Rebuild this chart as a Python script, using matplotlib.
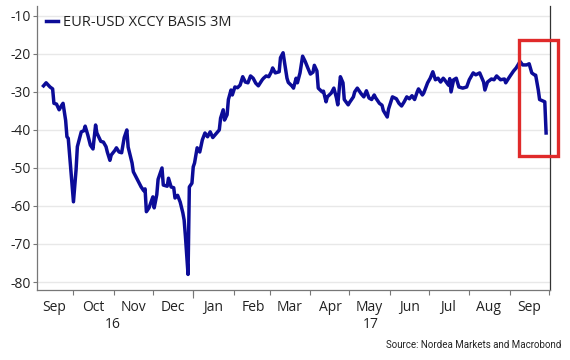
import matplotlib
matplotlib.use("Agg")
import matplotlib.pyplot as plt
import matplotlib.dates as mdates
import matplotlib.patches as mpatches
import matplotlib.transforms as mtrans
import pandas as pd

dates = ["2016-09-08","2016-09-10","2016-09-13","2016-09-15","2016-09-16","2016-09-18","2016-09-20","2016-09-22","2016-09-23","2016-09-25","2016-09-26","2016-09-27","2016-09-29",
"2016-10-01","2016-10-03","2016-10-04","2016-10-07","2016-10-09","2016-10-10","2016-10-12","2016-10-14","2016-10-16","2016-10-18","2016-10-19","2016-10-22","2016-10-24","2016-10-26","2016-10-27","2016-10-29","2016-10-30",
"2016-11-02","2016-11-03","2016-11-05","2016-11-07","2016-11-09","2016-11-11","2016-11-12","2016-11-15","2016-11-16","2016-11-19","2016-11-22","2016-11-24","2016-11-25","2016-11-26","2016-11-28",
"2016-12-01","2016-12-02","2016-12-04","2016-12-05","2016-12-08","2016-12-09","2016-12-12","2016-12-13","2016-12-15","2016-12-17","2016-12-18","2016-12-20","2016-12-22","2016-12-24","2016-12-25","2016-12-26","2016-12-28","2016-12-29","2016-12-31",
"2017-01-01","2017-01-02","2017-01-04","2017-01-06","2017-01-08","2017-01-10","2017-01-12","2017-01-14","2017-01-16","2017-01-17","2017-01-21","2017-01-22","2017-01-24","2017-01-25","2017-01-27","2017-01-28","2017-01-30","2017-01-31",
"2017-02-02","2017-02-04","2017-02-06","2017-02-08","2017-02-10","2017-02-12","2017-02-14","2017-02-16","2017-02-18","2017-02-20","2017-02-23","2017-02-24","2017-02-26","2017-02-28",
"2017-03-02","2017-03-03","2017-03-05","2017-03-08","2017-03-09","2017-03-11","2017-03-12","2017-03-14","2017-03-15","2017-03-18","2017-03-19","2017-03-21","2017-03-22","2017-03-24","2017-03-26","2017-03-28","2017-03-30",
"2017-04-01","2017-04-03","2017-04-04","2017-04-06","2017-04-07","2017-04-10","2017-04-11","2017-04-13","2017-04-14","2017-04-17","2017-04-19","2017-04-21","2017-04-22","2017-04-24","2017-04-26","2017-04-27","2017-04-30",
"2017-05-01","2017-05-04","2017-05-05","2017-05-07","2017-05-10","2017-05-12","2017-05-14","2017-05-16","2017-05-18","2017-05-20","2017-05-21","2017-05-24","2017-05-26","2017-05-27","2017-05-30","2017-05-31",
"2017-06-03","2017-06-06","2017-06-08","2017-06-10","2017-06-12","2017-06-14","2017-06-16","2017-06-18","2017-06-20","2017-06-22","2017-06-23","2017-06-26","2017-06-27","2017-06-30",
"2017-07-02","2017-07-04","2017-07-06","2017-07-08","2017-07-10","2017-07-12","2017-07-13","2017-07-16","2017-07-17","2017-07-18","2017-07-20","2017-07-22","2017-07-24","2017-07-27","2017-07-30",
"2017-08-01","2017-08-04","2017-08-06","2017-08-09","2017-08-12","2017-08-13","2017-08-15","2017-08-18","2017-08-20","2017-08-22","2017-08-25","2017-08-28","2017-08-29",
"2017-09-01","2017-09-04","2017-09-06","2017-09-09","2017-09-11","2017-09-14","2017-09-16","2017-09-18","2017-09-20","2017-09-21","2017-09-23","2017-09-24","2017-09-28","2017-09-29"]

basis = [-28.4,-27.6,-28.7,-29.2,-33.0,-33.2,-34.7,-33.5,-33.0,-37.5,-41.8,-42.2,-50.5,
-58.9,-50.5,-44.4,-40.5,-40.2,-39.0,-41.3,-44.0,-45.0,-38.7,-40.8,-43.0,-43.2,-44.4,-45.8,-48.0,-46.6,
-45.3,-44.7,-45.8,-46.0,-42.0,-40.0,-44.5,-48.7,-51.0,-53.0,-55.0,-56.0,-55.5,-61.5,-60.5,
-57.6,-60.5,-57.0,-53.0,-50.0,-54.5,-54.8,-52.7,-55.0,-55.2,-57.9,-57.2,-59.0,-61.8,-63.7,-68.0,-78.0,-55.0,-54.0,
-49.7,-48.7,-44.7,-45.8,-42.6,-40.8,-41.8,-40.5,-42.0,-41.6,-40.0,-36.9,-34.7,-37.4,-36.0,-32.0,-29.5,-30.8,
-28.7,-28.9,-28.2,-26.0,-27.4,-27.6,-25.8,-26.4,-27.7,-28.4,-26.8,-26.4,-25.8,-26.0,
-24.7,-23.7,-25.0,-24.7,-21.0,-19.7,-22.0,-26.4,-27.5,-28.5,-29.0,-26.4,-27.6,-25.0,-20.6,-22.0,-23.7,
-25.3,-24.8,-23.0,-24.5,-29.0,-30.0,-29.8,-32.6,-31.3,-30.3,-29.0,-31.6,-33.4,-26.0,-27.6,-32.0,-33.4,
-32.8,-31.3,-30.0,-29.0,-30.5,-31.3,-29.7,-31.6,-32.0,-30.8,-31.5,-33.0,-33.5,-34.9,-36.6,-34.5,
-31.3,-31.8,-33.0,-33.7,-32.6,-31.3,-31.8,-31.0,-32.0,-30.0,-29.2,-30.8,-30.3,-27.6,
-26.4,-24.7,-26.8,-26.4,-27.4,-26.4,-26.8,-28.2,-26.5,-30.0,-26.8,-26.4,-28.7,-29.0,-28.7,
-26.8,-25.0,-25.5,-25.0,-27.4,-29.5,-27.4,-26.6,-26.8,-25.8,-26.8,-26.6,-27.6,
-26.0,-24.5,-23.7,-22.0,-22.9,-22.9,-22.6,-25.0,-25.5,-25.6,-29.5,-32.0,-32.6,-40.8]

series_label = "EUR-USD XCCY BASIS 3M"
source_text = "Source: Nordea Markets and Macrobond"
y_ticks = [-80, -70, -60, -50, -40, -30, -20, -10]
year_labels = [("16", "2016-10-31"), ("17", "2017-05-17")]
highlight_start, highlight_end = "2017-09-08", "2017-10-08"
highlight_low, highlight_high = -46.9, -16.4

x = pd.to_datetime(dates)

fig = plt.figure(figsize=(5.7, 3.6), dpi=100)
ax = fig.add_axes([37/570, 1-290/360, (550-37)/570, (290-6)/360])

line_color = "#0c0c98"
ax.plot(x, basis, color=line_color, lw=2.5, solid_joinstyle="round", label=series_label, zorder=3)

ax.set_xlim(pd.Timestamp("2016-09-03"), pd.Timestamp("2017-10-02"))
ax.set_ylim(-82.1, -7.4)

ax.set_yticks(y_ticks)
ax.set_yticklabels([str(v) for v in y_ticks])
ax.yaxis.grid(True, color="#e8e8e8", lw=1.0, zorder=0)
ax.set_axisbelow(True)

ax.spines["top"].set_visible(False)
ax.spines["left"].set_color("#777777")
ax.spines["bottom"].set_color("#777777")
ax.spines["right"].set_color("#333333")
for s in ["left", "bottom", "right"]:
    ax.spines[s].set_linewidth(0.9)

ax.tick_params(axis="y", length=3, width=0.8, color="#777777", pad=1.5, labelcolor="#222222")
for lab in ax.get_yticklabels():
    lab.set_fontfamily("Open Sans"); lab.set_fontsize(10)

# month boundaries as tick marks, mid-month labels
ax.xaxis.set_major_locator(mdates.MonthLocator())
ax.xaxis.set_major_formatter(plt.NullFormatter())
ax.xaxis.set_minor_locator(mdates.MonthLocator(bymonthday=16))
ax.xaxis.set_minor_formatter(mdates.DateFormatter("%b"))
ax.tick_params(axis="x", which="major", length=3.5, width=0.8, color="#777777")
ax.tick_params(axis="x", which="minor", length=0, pad=7, labelcolor="#222222")
for lab in ax.get_xticklabels(minor=True):
    lab.set_fontfamily("Open Sans"); lab.set_fontsize(10)

# longer tick at year boundary
sec = ax.secondary_xaxis("bottom")
sec.set_xticks([pd.Timestamp("2017-01-01")])
sec.tick_params(length=6, width=0.8, color="#777777", labelbottom=False)
sec.spines["bottom"].set_visible(False)

trans = mtrans.blended_transform_factory(ax.transData, ax.transAxes)
for txt, d in year_labels:
    ax.text(pd.Timestamp(d), -34/284, txt, transform=trans, ha="center", va="center",
            fontfamily="Open Sans", fontsize=10, color="#222222")

leg = ax.legend(loc="upper left", bbox_to_anchor=(0.0, 1.0), frameon=False,
                handlelength=0.8, handletextpad=0.3, borderaxespad=0.25,
                prop={"family": "Open Sans", "size": 10.5})
for t in leg.get_texts():
    t.set_color("#222222")

x0 = mdates.date2num(pd.Timestamp(highlight_start))
x1 = mdates.date2num(pd.Timestamp(highlight_end))
rect = mpatches.Rectangle((x0, highlight_low), x1 - x0, highlight_high - highlight_low,
                          fill=False, edgecolor="#e02a2a", lw=2.4, clip_on=False, zorder=5)
ax.add_patch(rect)

fig.text(561/570, 1-345/360, source_text, ha="right", va="center",
         fontfamily="Roboto", fontsize=7, color="#222222")

fig.savefig("out.png", dpi=100)
